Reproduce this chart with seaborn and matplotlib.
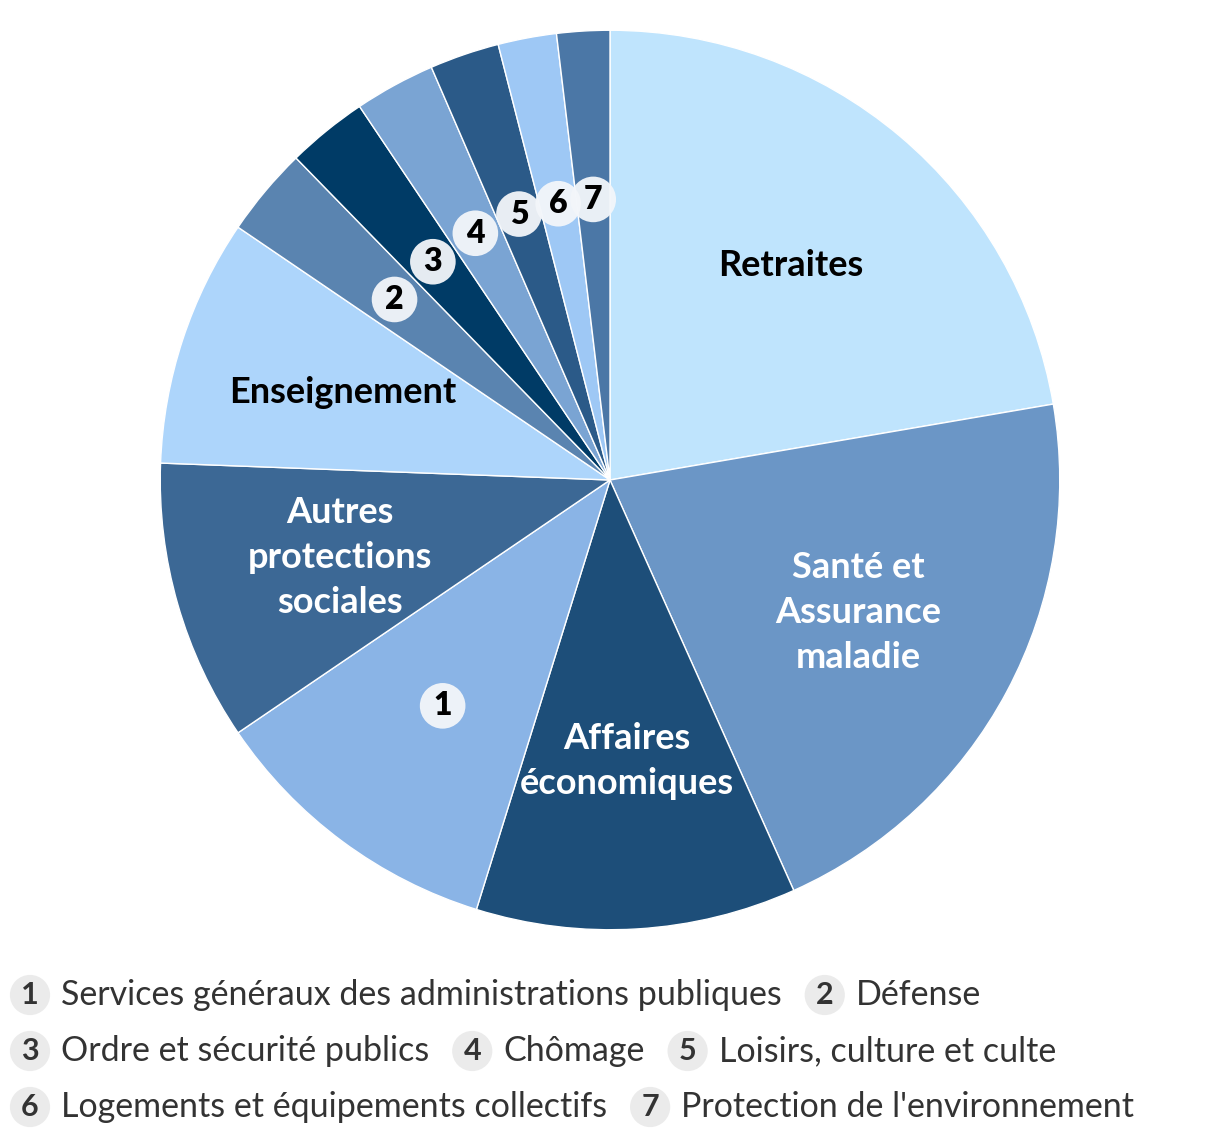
import matplotlib.pyplot as plt
import seaborn as sns

# Répartition de la dépense publique par fonction (parts en %)
categories = ["Retraites", "Santé et\nAssurance\nmaladie", "Affaires\néconomiques", "1",
              "Autres\nprotections\nsociales", "Enseignement", "2", "3", "4", "5", "6", "7"]
shares = [22.3, 21.0, 11.5, 10.7, 10.1, 8.9, 3.2, 2.9, 2.9, 2.5, 2.1, 1.9]
colors = ["#bfe4fd", "#6b96c6", "#1d4e79", "#8ab4e6", "#3c6895", "#add5fb",
          "#5a84b0", "#003b66", "#7aa4d3", "#2b5a88", "#9ec8f5", "#4b77a6"]
label_colors = ["black", "white", "white", "black", "white", "black",
                "black", "black", "black", "black", "black", "black"]

legend_nums = ["1", "2", "3", "4", "5", "6", "7"]
legend_names = ["Services généraux des administrations publiques", "Défense",
                "Ordre et sécurité publics", "Chômage", "Loisirs, culture et culte",
                "Logements et équipements collectifs", "Protection de l'environnement"]
legend_rows = [[0, 1], [2, 3, 4], [5, 6]]

sns.set_style("white")
plt.rcParams['font.family'] = ['Lato', 'DejaVu Sans']

W, H = 1220, 1138
fig = plt.figure(figsize=(W / 100, H / 100), dpi=100)
ax = fig.add_axes([(610 - 452) / W, 1 - 932 / H, 904 / W, 904 / H])

wedges, texts = ax.pie(shares, labels=categories, colors=sns.color_palette(colors),
                       startangle=90, counterclock=False, labeldistance=0.625,
                       wedgeprops=dict(edgecolor="white", linewidth=1))
ax.set_xlim(-1.005, 1.005)
ax.set_ylim(-1.005, 1.005)
ax.set_aspect("equal")

for t, c in zip(texts, label_colors):
    t.set_ha("center")
    t.set_va("center")
    t.set_color(c)
    t.set_fontweight("bold")
    if t.get_text().isdigit():
        t.set_fontsize(23)
        t.set_fontweight("heavy")
        t.set_bbox(dict(boxstyle="circle,pad=0.26", fc="#f3f6fa", ec="none", alpha=0.95))
    else:
        t.set_fontsize(26)
        t.set_linespacing(1.45)

# légende numérotée en bas
renderer = fig.canvas.get_renderer()
row_y = [995, 1051, 1107]
for row, y in zip(legend_rows, row_y):
    x = 30
    for i in row:
        fig.text(x / W, 1 - y / H, legend_nums[i], ha="center", va="center",
                 fontsize=22, fontweight="bold", color="#333333",
                 bbox=dict(boxstyle="circle,pad=0.2", fc="#ebebeb", ec="none"))
        t = fig.text((x + 31) / W, 1 - y / H, legend_names[i], ha="left", va="center",
                     fontsize=24.5, color="#333333")
        bb = t.get_window_extent(renderer)
        x = bb.x1 + 43

fig.savefig("out.png", dpi=100, facecolor="white")
